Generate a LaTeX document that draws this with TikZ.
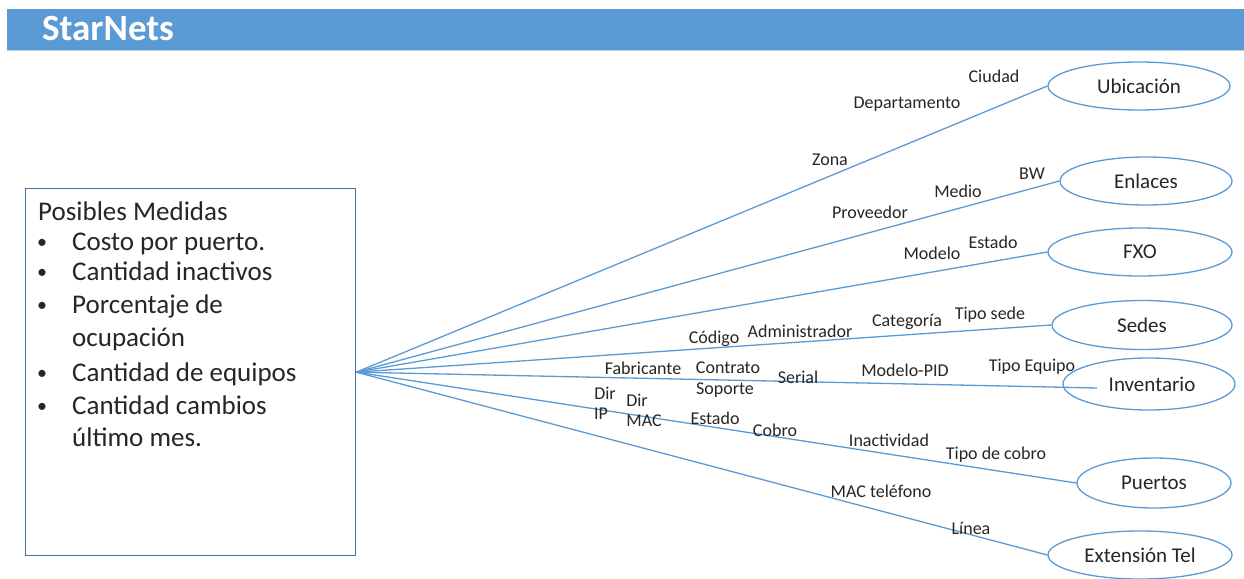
\documentclass[tikz,border=0pt]{standalone}
\usepackage{fontspec}
\setmainfont{Carlito}
\usetikzlibrary{shapes.geometric}
\definecolor{hdr}{HTML}{5B9BD5}
\definecolor{ln}{HTML}{5B9BD5}
\definecolor{bx}{HTML}{41719C}
\definecolor{txt}{HTML}{262626}
\begin{document}
\begin{tikzpicture}[x=1pt,y=-1pt,
  ent/.style={ellipse,draw=ln,line width=1.3pt,inner sep=0pt,text=txt,font=\fontsize{21}{25}\selectfont},
  lbl/.style={inner sep=0pt,text=txt,font=\fontsize{18}{21}\selectfont},
  conn/.style={draw=ln,line width=1.3pt},
  boxtxt/.style={inner sep=0pt,anchor=base west,text=txt,font=\fontsize{27}{32}\selectfont},
  bul/.style={inner sep=0pt,anchor=base west,text=txt,font=\fontsize{20}{24}\selectfont}]
\useasboundingbox (0,0) rectangle (1244,578);
\fill[white] (0,0) rectangle (1244,578);
% header
\fill[hdr] (7,9) rectangle (1244,50);
\draw[hdr!45,line width=1pt] (7,51) -- (1244,51);
\node[anchor=base west,inner sep=0pt,text=white,font=\fontsize{37}{42}\selectfont\bfseries] (title) at (42,41) {StarNets};
% measures box
\node[draw=bx,line width=1.3pt,anchor=north west,minimum width=330,minimum height=367,inner sep=0pt] (box) at (25,188) {};
\node[boxtxt] (m0) at (38,220) {Posibles Medidas};
\node[bul] (b1) at (37,248) {•};
\node[boxtxt] (m1) at (72,250) {Costo por puerto.};
\node[bul] (b2) at (37,278) {•};
\node[boxtxt] (m2) at (72,280) {Cantidad inactivos};
\node[bul] (b3) at (37,311) {•};
\node[boxtxt] (m3) at (72,313) {Porcentaje de};
\node[boxtxt] (m3b) at (72,346) {ocupación};
\node[bul] (b4) at (37,379) {•};
\node[boxtxt] (m4) at (72,381) {Cantidad de equipos};
\node[bul] (b5) at (37,412) {•};
\node[boxtxt] (m5) at (72,414) {Cantidad cambios};
\node[boxtxt] (m5b) at (72,446) {último mes.};
% entities
\node[ent,minimum width=182,minimum height=48] (ubi) at (1139,86) {Ubicación};
\node[ent,minimum width=172,minimum height=48] (enl) at (1146,181) {Enlaces};
\node[ent,minimum width=184,minimum height=48] (fxo) at (1140,252) {FXO};
\node[ent,minimum width=180,minimum height=49] (sed) at (1142,325) {Sedes};
\node[ent,minimum width=172,minimum height=52] (inv) at (1149,384) {\hspace*{6pt}Inventario};
\node[ent,minimum width=154,minimum height=50] (pue) at (1154,483) {Puertos};
\node[ent,minimum width=184,minimum height=48] (ext) at (1140,555) {Extensión Tel};
\coordinate (invend) at (1097,388);
% connectors
\draw[conn] (box.east) -- (ubi.west);
\draw[conn] (box.east) -- (enl.west);
\draw[conn] (box.east) -- (fxo.west);
\draw[conn] (box.east) -- (sed.west);
\draw[conn] (box.east) -- (invend);
\draw[conn] (box.east) -- (pue.west);
\draw[conn] (box.east) -- (ext.west);
% attribute labels
\node[lbl] (l1) at (994,76) {Ciudad};
\node[lbl] (l2) at (907,104) {Departamento};
\node[lbl] (l3) at (830,160) {Zona};
\node[lbl] (l4) at (1032,174) {BW};
\node[lbl] (l5) at (958,191) {Medio};
\node[lbl] (l6) at (870,212) {Proveedor};
\node[lbl] (l7) at (993,242) {Estado};
\node[lbl] (l8) at (932,253) {Modelo};
\node[lbl] (l9) at (990,315) {Tipo sede};
\node[lbl] (l10) at (907,322) {Categoría};
\node[lbl] (l11) at (800,331) {Administrador};
\node[lbl] (l12) at (714,339) {Código};
\node[lbl] (l13) at (643,368) {Fabricante};
\node[lbl] (l14) at (728,368) {Contrato};
\node[lbl] (l15) at (725,390) {Soporte};
\node[lbl] (l16) at (798,377) {Serial};
\node[lbl] (l17) at (905,370) {Modelo-PID};
\node[lbl] (l18) at (1032,367) {Tipo Equipo};
\node[lbl] (l19) at (605,393) {Dir};
\node[lbl] (l20) at (601,414) {IP};
\node[lbl] (l21) at (637,400) {Dir};
\node[lbl] (l22) at (644,421) {MAC};
\node[lbl] (l23) at (715,418) {Estado};
\node[lbl] (l24) at (775,430) {Cobro};
\node[lbl] (l25) at (889,440) {Inactividad};
\node[lbl] (l26) at (996,455) {Tipo de cobro};
\node[lbl] (l27) at (881,491) {MAC teléfono};
\node[lbl] (l28) at (971,528) {Línea};
\end{tikzpicture}
\end{document}
